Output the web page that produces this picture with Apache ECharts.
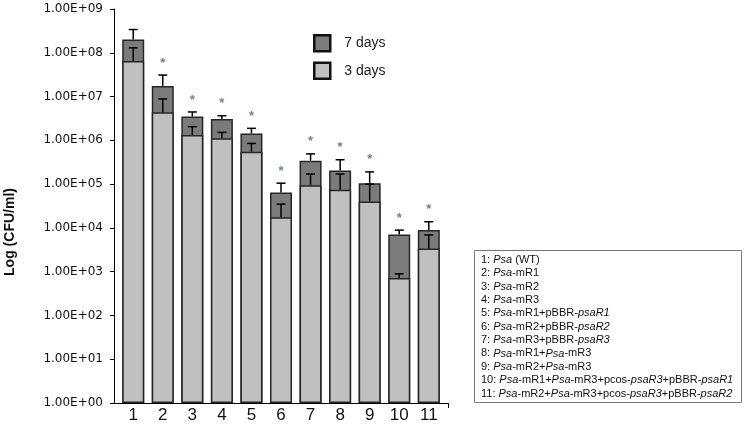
<!DOCTYPE html>
<html>
<head>
<meta charset="utf-8">
<script src="https://cdn.jsdelivr.net/npm/echarts@6/dist/echarts.min.js"></script>
<style>
html,body{margin:0;padding:0;background:#fff;}
#chart{width:747px;height:427px;}
</style>
</head>
<body>
<div id="chart"></div>
<script>
var categories = ['1','2','3','4','5','6','7','8','9','10','11'];
var days7 = [2.0e8, 1.74e7, 3.5e6, 3.08e6, 1.44e6, 6.4e4, 3.4e5, 2.04e5, 1.04e5, 7.1e3, 8.9e3];
var days3 = [6.5e7, 4.36e6, 1.32e6, 1.11e6, 5.5e5, 1.74e4, 9.4e4, 7.4e4, 4.0e4, 716, 3.4e3];
var err7Top = [3.4e8, 3.1e7, 4.45e6, 3.65e6, 1.88e6, 1.05e5, 4.9e5, 3.6e5, 1.9e5, 8.9e3, 1.38e4];
var err3Top = [1.3e8, 8.8e6, 2.05e6, 1.52e6, 8.5e5, 3.5e4, 1.7e5, 1.7e5, 1.0e5, 890, 6.9e3];
var significant = [false, true, true, true, true, true, true, true, true, true, true];
var yTickLabels = ['1.00E+00','1.00E+01','1.00E+02','1.00E+03','1.00E+04','1.00E+05','1.00E+06','1.00E+07','1.00E+08','1.00E+09'];
var keyLines = [
  '1: {i|Psa} (WT)',
  '2: {i|Psa}-mR1',
  '3: {i|Psa}-mR2',
  '4: {i|Psa}-mR3',
  '5: {i|Psa}-mR1+pBBR-{i|psaR1}',
  '6: {i|Psa}-mR2+pBBR-{i|psaR2}',
  '7: {i|Psa}-mR3+pBBR-{i|psaR3}',
  '8: {i|Psa}-mR1+{i|Psa}-mR3',
  '9: {i|Psa}-mR2+{i|Psa}-mR3',
  '10: {i|Psa}-mR1+{i|Psa}-mR3+pcos-{i|psaR3}+pBBR-{i|psaR1}',
  '11: {i|Psa}-mR2+{i|Psa}-mR3+pcos-{i|psaR3}+pBBR-{i|psaR2}'
];

var FONT = '"Liberation Sans", Arial, sans-serif';
var chart = echarts.init(document.getElementById('chart'), null, {renderer: 'canvas'});

function barData(vals) {
  return vals.map(function (v, i) { return [i + 1, v]; });
}
function errData(base, top, sig) {
  return base.map(function (v, i) { return [i + 1, v, top[i], sig ? (significant[i] ? 1 : 0) : 0]; });
}
function renderErr(params, api) {
  var x = api.value(0);
  var p0 = api.coord([x, api.value(1)]);
  var p1 = api.coord([x, api.value(2)]);
  var children = [
    {type: 'line', shape: {x1: p0[0], y1: p0[1], x2: p1[0], y2: p1[1]}, style: {stroke: '#000', lineWidth: 1.5}},
    {type: 'line', shape: {x1: p1[0] - 4.5, y1: p1[1], x2: p1[0] + 4.5, y2: p1[1]}, style: {stroke: '#000', lineWidth: 1.5}}
  ];
  if (api.value(3) === 1) {
    children.push({type: 'text', x: p1[0], y: p1[1] - 12, style: {text: '*', fill: '#6f7f9c', font: 'bold 13px ' + FONT, align: 'center', verticalAlign: 'middle'}});
  }
  return {type: 'group', children: children};
}

var keyChildren = [{type: 'rect', shape: {x: 474.5, y: 250.5, width: 267, height: 152}, style: {fill: '#fff', stroke: '#777', lineWidth: 1}}];
keyLines.forEach(function (t, i) {
  keyChildren.push({
    type: 'text', x: 481, y: 260 + i * 13.35,
    style: {
      text: t, font: '11px ' + FONT, fill: '#111', verticalAlign: 'middle', align: 'left',
      rich: {i: {fontStyle: 'italic', fontSize: 11, fontFamily: FONT, fill: '#111'}}
    }
  });
});

var option = {
  animation: false,
  backgroundColor: '#fff',
  grid: {left: 114, right: 299, top: 9, bottom: 24, containLabel: false},
  legend: {
    data: ['7 days', '3 days'], orient: 'vertical', left: 313, top: 34, padding: 0,
    itemWidth: 16, itemHeight: 16, itemGap: 9, icon: 'rect',
    itemStyle: {borderColor: '#111', borderWidth: 2.5},
    textStyle: {fontFamily: FONT, fontSize: 14, color: '#222', padding: [0, 0, 0, 9]}
  },
  xAxis: {
    type: 'value', min: 0.35, max: 11.65,
    axisLine: {show: true, lineStyle: {color: '#000', width: 1}},
    axisTick: {show: true, inside: false, length: 5, customValues: [11.65], lineStyle: {color: '#000'}},
    splitLine: {show: false},
    axisLabel: {
      customValues: [1,2,3,4,5,6,7,8,9,10,11],
      formatter: function (v) { return categories[Math.round(v) - 1]; },
      fontFamily: FONT, fontSize: 17, color: '#111', margin: 4
    }
  },
  yAxis: {
    type: 'log', logBase: 10, min: 1, max: 1e9, interval: 1,
    axisLine: {show: true, lineStyle: {color: '#000', width: 1}},
    axisTick: {show: true, length: 4, lineStyle: {color: '#000'}},
    splitLine: {show: false},
    minorTick: {show: false},
    axisLabel: {
      formatter: function (v) { return yTickLabels[Math.round(Math.log10(v))]; },
      fontFamily: '"DejaVu Sans", sans-serif', fontSize: 12, color: '#111', margin: 11
    }
  },
  graphic: [
    {type: 'text', x: 10, y: 232, rotation: Math.PI / 2,
     style: {text: 'Log (CFU/ml)', font: 'bold 14px ' + FONT, fill: '#111', align: 'center', verticalAlign: 'middle'}},
    {type: 'group', children: keyChildren}
  ],
  series: [
    {name: '7 days', type: 'bar', data: barData(days7), barWidth: 22, barGap: '-100%', z: 2,
     itemStyle: {color: '#7b7b7b', borderColor: '#262626', borderWidth: 1.5}},
    {name: '3 days', type: 'bar', data: barData(days3), barWidth: 22, barGap: '-100%', z: 3,
     itemStyle: {color: '#c0c0c0', borderColor: '#262626', borderWidth: 1.5}},
    {name: 'err7', type: 'custom', renderItem: renderErr, data: errData(days7, err7Top, true), z: 5,
     encode: {x: 0, y: [1, 2]}},
    {name: 'err3', type: 'custom', renderItem: renderErr, data: errData(days3, err3Top, false), z: 5,
     encode: {x: 0, y: [1, 2]}}
  ]
};
chart.setOption(option);
</script>
</body>
</html>
